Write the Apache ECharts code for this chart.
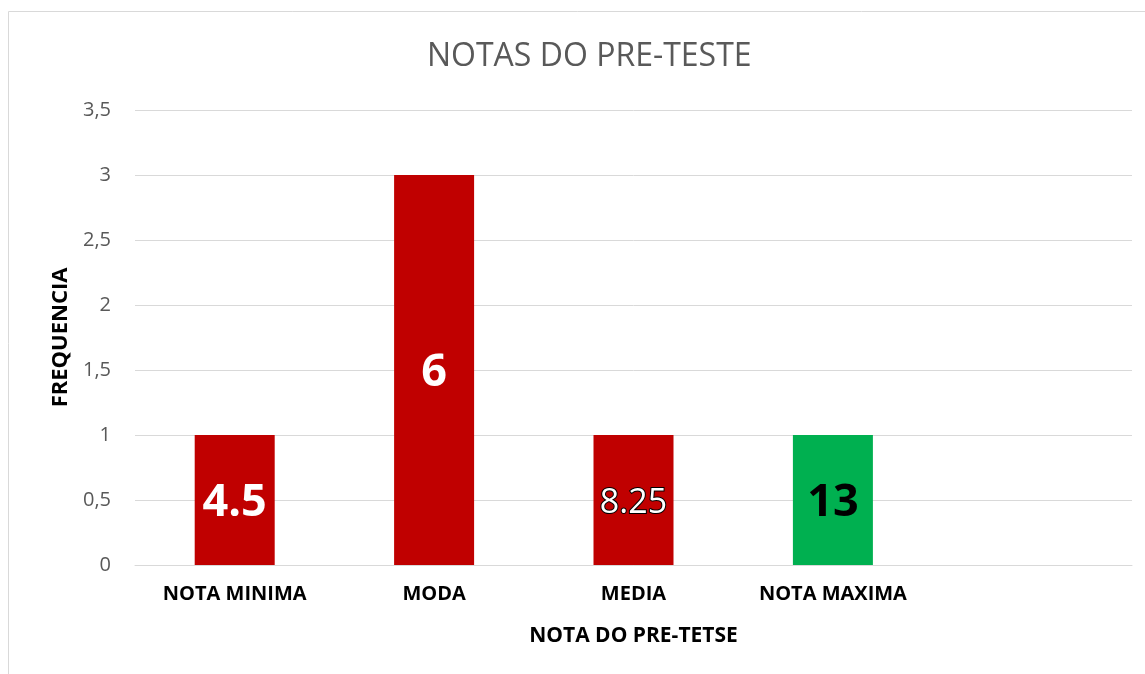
<!DOCTYPE html>
<html>
  <head>
    <meta charset="utf-8">
    <title>Notas do pre-teste</title>
    <style type="text/css">
    html,body{margin:0;padding:0;background:#fff;}
    #chart{width:1145px;height:674px;}
    </style>
    <script src="https://cdn.jsdelivr.net/npm/echarts@6/dist/echarts.min.js"></script>
  </head>
  <body>
    <div id="chart"></div>
    <script type="text/javascript">
      var categorias = ['NOTA MINIMA', 'MODA', 'MEDIA', 'NOTA MAXIMA', ''];
      var frequencia = [1, 3, 1, 1, null];
      var notas = ['4.5', '6', '8.25', '13', ''];
      var cores = ['#c00000', '#c00000', '#c00000', '#00b050', '#c00000'];

      // estilo do rotulo de cada barra
      var rotulos = [
        { color: '#fff', fontWeight: 'bold', fontSize: 45 },
        { color: '#fff', fontWeight: 'bold', fontSize: 45 },
        { color: '#fff', fontWeight: 'normal', fontSize: 34, textBorderColor: '#000', textBorderWidth: 2 },
        { color: '#000', fontWeight: 'bold', fontSize: 45 },
        { color: '#fff' }
      ];

      var dados = frequencia.map(function (v, i) {
        return {
          value: v,
          itemStyle: { color: cores[i] },
          label: Object.assign({ show: true, position: 'inside', fontFamily: 'Open Sans', offset: [0, 3],
            formatter: function () { return notas[i]; } }, rotulos[i])
        };
      });

      var chart = echarts.init(document.getElementById('chart'));
      chart.setOption({
        animation: false,
        title: {
          text: 'NOTAS DO PRE-TESTE',
          left: 422,
          top: 36,
          textStyle: { color: '#595959', fontSize: 32, fontWeight: 'normal', fontFamily: 'Open Sans' }
        },
        graphic: [{
          type: 'rect',
          shape: { x: 8.5, y: 11.5, width: 1200, height: 700 },
          style: { fill: 'none', stroke: '#d9d9d9', lineWidth: 1 },
          silent: true
        }],
        grid: { left: 135, right: 13, top: 110, bottom: 109, containLabel: false },
        xAxis: {
          type: 'category',
          data: categorias,
          name: 'NOTA DO PRE-TETSE',
          nameLocation: 'middle',
          nameGap: 61,
          nameTextStyle: { color: '#000', fontWeight: 'bold', fontSize: 21, fontFamily: 'Open Sans' },
          axisLine: { lineStyle: { color: '#d9d9d9' } },
          axisTick: { show: false },
          axisLabel: { color: '#000', fontWeight: 'bold', fontSize: 20, fontFamily: 'Open Sans', margin: 19 }
        },
        yAxis: {
          type: 'value',
          min: 0,
          max: 3.5,
          interval: 0.5,
          name: 'FREQUENCIA',
          nameLocation: 'middle',
          nameGap: 63,
          nameTextStyle: { color: '#000', fontWeight: 'bold', fontSize: 22, fontFamily: 'Open Sans' },
          axisLine: { show: false },
          axisTick: { show: false },
          splitLine: { lineStyle: { color: '#d9d9d9' } },
          axisLabel: {
            color: '#595959', fontSize: 20, fontFamily: 'Open Sans', margin: 24,
            formatter: function (v) { return String(v).replace('.', ','); }
          }
        },
        series: [{
          type: 'bar',
          data: dados,
          barWidth: 80
        }]
      });
    </script>
  </body>
</html>
